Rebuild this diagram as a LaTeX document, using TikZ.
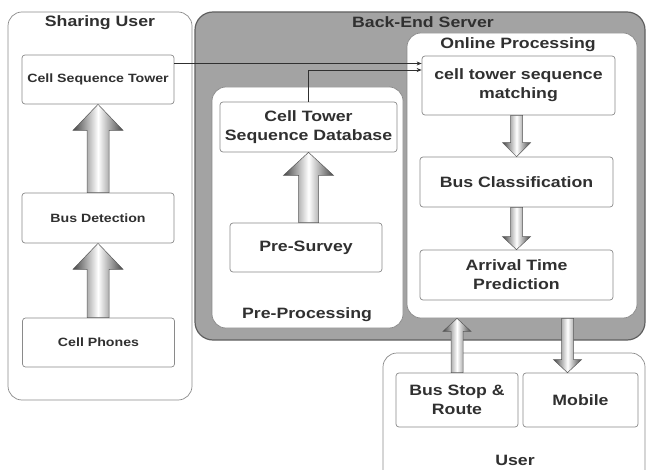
\documentclass[tikz,border=0pt]{standalone}
\usepackage{fontspec}
\setmainfont{Liberation Sans}[FakeStretch=1.18]
\usetikzlibrary{arrows.meta,calc}

\definecolor{servergray}{HTML}{A3A3A3}
\definecolor{linegray}{HTML}{8A8A8A}
\definecolor{textgray}{HTML}{303030}

% #1 tail, #2 tip, #3 half shaft, #4 half head, #5 signed head length
\newcommand{\fatarrow}[5]{%
  \path[fatarrow] let \p1=#1, \p2=#2 in
    ({\x2-#3pt},\y1) -- ({\x2-#3pt},{\y2+(#5pt)}) -- ({\x2-#4pt},{\y2+(#5pt)})
    -- (\x2,\y2) -- ({\x2+#4pt},{\y2+(#5pt)}) -- ({\x2+#3pt},{\y2+(#5pt)})
    -- ({\x2+#3pt},\y1) -- cycle;}

\begin{document}
\begin{tikzpicture}[
  x=1pt, y=-1pt,
  font=\bfseries,
  text=textgray,
  group/.style={
    rectangle,
    rounded corners=14pt,
    draw=linegray,
    fill=white,
    line width=0.7pt
  },
  title/.style={font=\bfseries\fontsize{15}{18}\selectfont},
  box/.style={
    rectangle,
    rounded corners=3pt,
    draw=linegray,
    fill=white,
    line width=0.7pt,
    align=center,
    inner sep=2pt,
    font=\bfseries\fontsize{15}{19}\selectfont
  },
  smallbox/.style={box, font=\bfseries\fontsize{12}{14}\selectfont},
  fatarrow/.style={draw=gray!70!black, line width=0.5pt,
    left color=gray!55!black, right color=gray!55!black, middle color=white},
  link/.style={-{Stealth[length=5pt,width=4pt]}, line width=0.8pt, draw=textgray}
]
  \useasboundingbox (0,0) rectangle (647,470);

  % groups
  \node[group, minimum width=184pt, minimum height=388pt] (sharing) at (100,206) {};
  \node[title] (sharingtitle) at (100,23) {Sharing User};

  \node[group, fill=servergray, draw=gray!75!black, line width=1.2pt, rounded corners=18pt,
    minimum width=450pt, minimum height=328pt] (server) at (420,176) {};
  \node[title] (servertitle) at (423,22) {Back-End Server};

  \node[group, minimum width=230pt, minimum height=285pt] (online) at (522,175.5) {};
  \node[title] (onlinetitle) at (518,45) {Online Processing};

  \node[group, minimum width=191pt, minimum height=241pt] (preproc) at (307.5,207.5) {};
  \node[title] (preproctitle) at (307,315) {Pre-Processing};

  \node[group, minimum width=262pt, minimum height=140pt] (user) at (514,423) {};
  \node[title] (usertitle) at (515,460) {User};

  % sharing user
  \node[smallbox, minimum width=152pt, minimum height=49pt] (cstower) at (98,79.5) {Cell Sequence Tower};
  \node[smallbox, minimum width=152pt, minimum height=50pt] (busdet) at (98,218) {Bus Detection};
  \node[smallbox, minimum width=152pt, minimum height=49pt] (phones) at (98.5,342.5) {Cell Phones};

  % pre-processing
  \node[box, minimum width=177pt, minimum height=50pt] (database) at (308.5,127) {Cell Tower\\Sequence Database};
  \node[box, minimum width=152pt, minimum height=49pt] (presurvey) at (306,247.5) {Pre-Survey};

  % online processing
  \node[box, minimum width=193pt, minimum height=59pt] (matching) at (518.5,85.5) {cell tower sequence\\matching};
  \node[box, minimum width=193pt, minimum height=50pt] (buscls) at (516.5,182) {Bus Classification};
  \node[box, minimum width=193pt, minimum height=50pt] (arrival) at (516.5,275) {Arrival Time\\Prediction};

  % user
  \node[box, minimum width=122pt, minimum height=54pt] (busstop) at (457,400) {Bus Stop \&\\Route};
  \node[box, minimum width=115pt, minimum height=54pt] (mobile) at (580.5,400) {Mobile};

  % big arrows
  \fatarrow{(phones.north)}{(busdet.south)}{11}{25}{-26}
  \fatarrow{(busdet.north)}{(cstower.south)}{11}{25}{-26}
  \fatarrow{(presurvey.north)}{(database.south)}{10}{25}{-23}
  \fatarrow{(matching.south)}{(buscls.north)}{6}{14}{14}
  \fatarrow{(buscls.south)}{(arrival.north)}{6}{14}{13}
  \fatarrow{(busstop.north)}{(busstop.north |- online.south)}{6}{14}{-13}
  \fatarrow{(online.south)}{([xshift=-13pt]mobile.north)}{6}{14}{13}

  % links
  \draw[link] ([yshift=16pt]cstower.east) -- ([yshift=16pt]cstower.east -| matching.west);
  \draw[link] (database.north) |- ([yshift=15.5pt]matching.west);
\end{tikzpicture}
\end{document}
